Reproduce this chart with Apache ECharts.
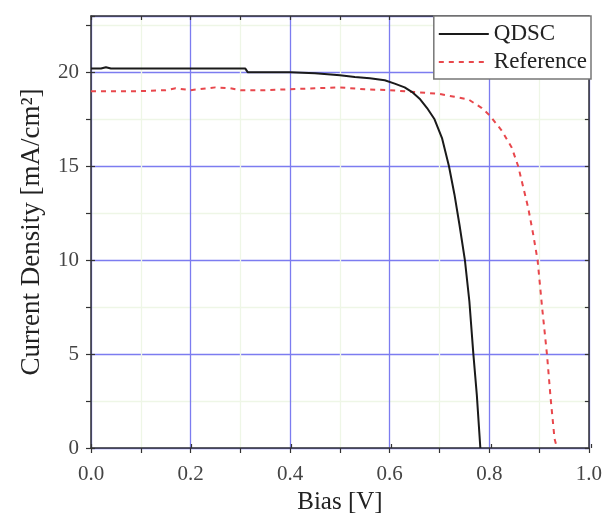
<!DOCTYPE html>
<html>
<head>
<meta charset="utf-8">
<script src="https://cdn.jsdelivr.net/npm/echarts@6/dist/echarts.min.js"></script>
<style>
html,body{margin:0;padding:0;background:#fff;}
#c{width:605px;height:520px;}
</style>
</head>
<body>
<div id="c"></div>
<script>
// Bias [V] and current density [mA/cm2]
var qdscV = [0, 0.02, 0.03, 0.04, 0.10, 0.20, 0.31, 0.315, 0.40, 0.45, 0.50, 0.53, 0.56, 0.59, 0.61, 0.63, 0.645, 0.66, 0.675, 0.69, 0.705, 0.719, 0.73, 0.74, 0.751, 0.76, 0.768, 0.775, 0.782];
var qdscJ = [20.2, 20.2, 20.27, 20.2, 20.2, 20.2, 20.2, 20.0, 20.0, 19.95, 19.85, 19.75, 19.68, 19.58, 19.4, 19.2, 18.95, 18.6, 18.1, 17.5, 16.5, 15.0, 13.5, 11.9, 10.0, 7.8, 5.0, 2.8, 0];
var refV = [0, 0.05, 0.10, 0.15, 0.17, 0.20, 0.25, 0.28, 0.30, 0.35, 0.40, 0.45, 0.50, 0.55, 0.60, 0.65, 0.70, 0.73, 0.758, 0.785, 0.801, 0.825, 0.845, 0.858, 0.868, 0.878, 0.888, 0.897, 0.906, 0.916, 0.923, 0.931, 0.934];
var refJ = [19.0, 19.0, 19.0, 19.05, 19.15, 19.05, 19.2, 19.15, 19.05, 19.05, 19.1, 19.15, 19.2, 19.1, 19.05, 18.95, 18.85, 18.7, 18.56, 18.1, 17.7, 16.9, 16.0, 15.0, 13.9, 12.8, 11.4, 10.0, 7.5, 4.94, 2.7, 0.5, 0.2];
var seriesNames = ['QDSC', 'Reference'];
var xTickLabels = ['0.0', '0.2', '0.4', '0.6', '0.8', '1.0'];
var yTickLabels = ['0', '5', '10', '15', '20'];

function pairs(xs, ys) { return xs.map(function (x, i) { return [x, ys[i]]; }); }

var FONT = '"Liberation Serif", "DejaVu Serif", serif';
var major = '#7c7cf0';
var minor = '#eef6e6';
var axisCol = '#333';
var G = {left: 91, right: 14, top: 16, bottom: 72};

function tickAxis(extra) {
  var a = {
    type: 'value',
    axisLine: {show: false},
    axisLabel: {show: false},
    splitLine: {show: false},
    axisTick: {show: true, inside: true, length: 4, lineStyle: {color: axisCol, width: 1.2}}
  };
  for (var k in extra) a[k] = extra[k];
  return a;
}

var chart = echarts.init(document.getElementById('c'), null, {renderer: 'canvas'});
chart.setOption({
  backgroundColor: '#fff',
  animation: false,
  grid: [
    {left: G.left, right: G.right, top: G.top, bottom: G.bottom},
    {left: G.left, right: G.right, top: G.top, bottom: G.bottom}
  ],
  legend: {
    data: seriesNames,
    orient: 'vertical',
    right: 14, top: 16,
    backgroundColor: '#fff',
    borderColor: '#777', borderWidth: 1.5,
    padding: [6, 4, 5, 4],
    itemGap: 4, itemWidth: 50, itemHeight: 14,
    itemStyle: {opacity: 0},
    textStyle: {fontFamily: FONT, fontSize: 23, lineHeight: 24, color: '#222'}
  },
  xAxis: [{
    type: 'value', gridIndex: 0, min: 0, max: 1, interval: 0.1,
    name: 'Bias [V]', nameLocation: 'middle', nameGap: 40,
    nameTextStyle: {fontFamily: FONT, fontSize: 25, color: '#222'},
    axisLine: {show: true, onZero: false, lineStyle: {color: axisCol, width: 1.5}},
    axisTick: {show: true, inside: false, length: 5, lineStyle: {color: axisCol, width: 1.2}},
    axisLabel: {fontFamily: FONT, fontSize: 21, color: '#444', margin: 16,
      formatter: function (v) { var k = Math.round(v * 10); return k % 2 === 0 ? xTickLabels[k / 2] : ''; }},
    splitLine: {show: true, lineStyle: {color: [major, minor], width: 1.3}}
  }, {
    type: 'value', gridIndex: 0, min: 0, max: 1, interval: 0.1, position: 'top',
    axisLine: {show: true, onZero: false, lineStyle: {color: axisCol, width: 1.5}},
    axisTick: {show: true, inside: true, length: 4, lineStyle: {color: axisCol, width: 1.2}},
    axisLabel: {show: false}, splitLine: {show: false}
  },
    tickAxis({gridIndex: 1, min: 0, max: 1, interval: 0.2, position: 'bottom'})
  ],
  yAxis: [{
    type: 'value', gridIndex: 0, min: 0, max: 23, interval: 2.5,
    name: 'Current Density [mA/cm\u00B2]', nameLocation: 'middle', nameGap: 46,
    nameTextStyle: {fontFamily: FONT, fontSize: 27, color: '#222'},
    axisLine: {show: true, onZero: false, lineStyle: {color: axisCol, width: 1.5}},
    axisTick: {show: true, inside: false, length: 5, lineStyle: {color: axisCol, width: 1.2}},
    axisLabel: {fontFamily: FONT, fontSize: 21, color: '#444', margin: 12, showMaxLabel: false,
      formatter: function (v) { var k = Math.round(v * 2); return (k % 10 === 0 && k / 10 < yTickLabels.length) ? yTickLabels[k / 10] : ''; }},
    splitLine: {show: true, lineStyle: {color: [major, minor], width: 1.3}}
  }, {
    type: 'value', gridIndex: 0, min: 0, max: 23, interval: 2.5, position: 'right',
    axisLine: {show: true, onZero: false, lineStyle: {color: axisCol, width: 1.5}},
    axisTick: {show: true, inside: true, length: 4, lineStyle: {color: axisCol, width: 1.2}},
    axisLabel: {show: false}, splitLine: {show: false}
  },
    tickAxis({gridIndex: 1, min: 0, max: 23, interval: 5, position: 'left'})
  ],
  series: [{
    name: seriesNames[0], type: 'line', xAxisIndex: 0, yAxisIndex: 0,
    data: pairs(qdscV, qdscJ), symbol: 'none', smooth: false,
    lineStyle: {color: '#1a1a1a', width: 2}, itemStyle: {color: '#1a1a1a'}, z: 3
  }, {
    name: seriesNames[1], type: 'line', xAxisIndex: 0, yAxisIndex: 0,
    data: pairs(refV, refJ), symbol: 'none', smooth: false,
    lineStyle: {color: '#e8474c', width: 2, type: [5, 5]}, itemStyle: {color: '#e8474c'}, z: 2
  }]
});
</script>
</body>
</html>
